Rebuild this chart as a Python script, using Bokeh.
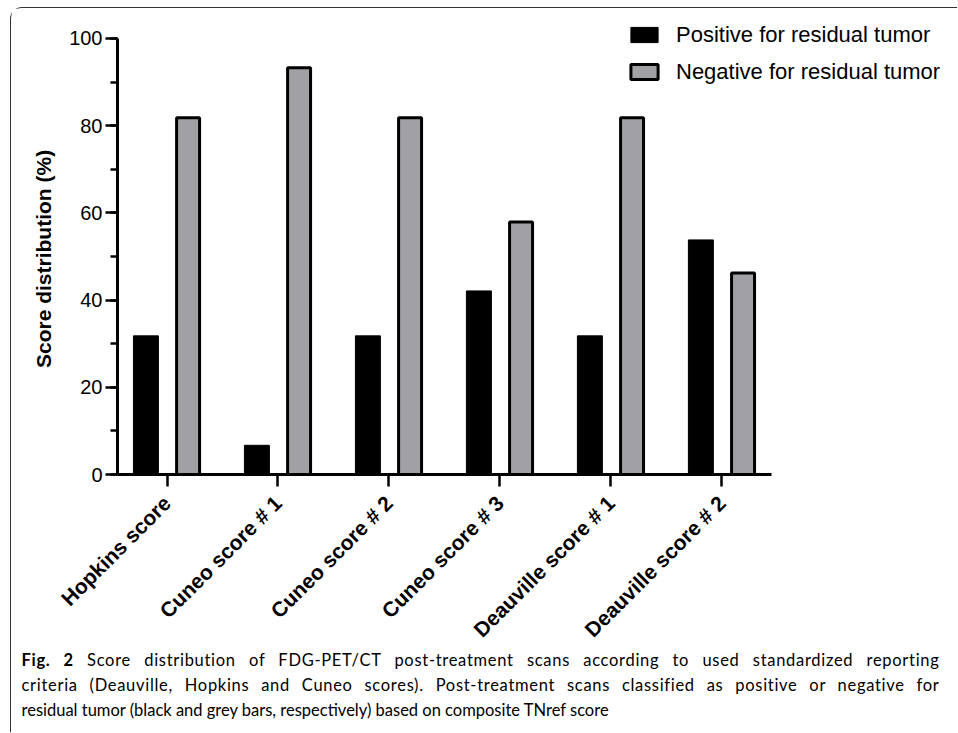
from bokeh.plotting import figure
from bokeh.layouts import column
from bokeh.models import (Range1d, SingleIntervalTicker, FixedTicker, Legend, LegendItem,
                          Title, Div, ColumnDataSource)
from bokeh.transform import dodge
from bokeh.embed import file_html
from bokeh.resources import INLINE
import math

categories = ["Hopkins score", "Cuneo score # 1", "Cuneo score # 2", "Cuneo score # 3",
              "Deauville score # 1", "Deauville score # 2"]
positive = [31.8, 6.7, 31.8, 42.1, 31.8, 53.8]
negative = [81.8, 93.3, 81.8, 57.9, 81.8, 46.2]
series_names = ["Positive for residual tumor", "Negative for residual tumor"]
y_label = "Score distribution (%)"
caption_bold = "Fig. 2"
caption_lines = [
    "Score distribution of FDG-PET/CT post-treatment scans according to used standardized reporting",
    "criteria (Deauville, Hopkins and Cuneo scores). Post-treatment scans classified as positive or negative for",
    "residual tumor (black and grey bars, respectively) based on composite TNref score",
]

idx = list(range(len(categories)))
src = ColumnDataSource(dict(idx=idx, pos=positive, neg=negative))

FONT = "Liberation Sans"
GREY = "#a1a1a5"
W = 946
H = 646

p = figure(width=W, height=H, output_backend="svg", toolbar_location=None,
           x_range=Range1d(-0.446, 7.068), y_range=Range1d(0, 105.5),
           min_border_left=106, min_border_right=6, min_border_top=6, min_border_bottom=H - 466)
p.outline_line_color = None
p.xgrid.visible = False
p.ygrid.visible = False

r_pos = p.vbar(x=dodge("idx", -0.19), top="pos", width=0.225, source=src,
               fill_color="black", line_color="black", line_width=1)
r_neg = p.vbar(x=dodge("idx", 0.19), top="neg", width=0.207, source=src,
               fill_color=GREY, line_color="black", line_width=3)

for ax in (p.xaxis[0], p.yaxis[0]):
    ax.axis_line_width = 3
    ax.axis_line_color = "black"
    ax.major_tick_line_width = 2.5
    ax.major_tick_line_color = "black"
    ax.major_tick_in = 0
    ax.major_tick_out = 12
    ax.major_label_text_font = FONT
    ax.major_label_text_color = "black"

yax = p.yaxis[0]
yax.ticker = SingleIntervalTicker(interval=20, num_minor_ticks=2)
yax.bounds = (0, 100)
yax.minor_tick_in = 0
yax.minor_tick_out = 7
yax.minor_tick_line_width = 2.5
yax.minor_tick_line_color = "black"
yax.major_label_text_font_size = "20px"
yax.major_label_standoff = 3

ytitle = Title(text=y_label, align="left", offset=106.5, text_font=FONT,
               text_font_style="bold", text_font_size="21px", text_color="black",
               standoff=24)
p.add_layout(ytitle, "left")

xax = p.xaxis[0]
xax.ticker = FixedTicker(ticks=idx)
xax.bounds = (-0.446, 5.446)
xax.major_label_overrides = {i: c for i, c in zip(idx, categories)}
xax.major_label_orientation = math.pi / 4
xax.major_label_text_font_size = "21px"
xax.major_label_text_font_style = "bold"
xax.major_label_standoff = 13

legend = Legend(items=[LegendItem(label=series_names[0], renderers=[r_pos]),
                       LegendItem(label=series_names[1], renderers=[r_neg])],
                location=(510, 389.5))
legend.padding = 0
legend.margin = 0
legend.border_line_alpha = 0
legend.background_fill_alpha = 0
legend.glyph_width = 34
legend.glyph_height = 19
legend.label_height = 19
legend.label_standoff = 15
legend.spacing = 11
legend.label_text_font = FONT
legend.label_text_font_size = "22px"
legend.label_text_color = "black"
p.add_layout(legend, "center")

# caption
just = "text-align: justify; text-align-last: justify; letter-spacing: 0.7px;"
cap_html = (
    '<div style="font-family: Lato, sans-serif; font-size: 16.5px; line-height: 25px; '
    'color: black; width: 918px; margin-left: 10.5px; padding-top: 9.5px;">'
    f'<div style="{just}"><b>{caption_bold}</b> {caption_lines[0]}</div>'
    f'<div style="{just}">{caption_lines[1]}</div>'
    f'<div>{caption_lines[2]}</div>'
    '</div>'
)
cap = Div(text=cap_html, width=W, height=94, margin=(630 - H, 0, 0, 0))

layout = column(p, cap, spacing=0, margin=(7, 0, 0, 10),
                styles={"border-left": "1.5px solid #333333",
                        "border-top": "1.5px solid #333333",
                        "border-top-left-radius": "12px"})

open("out.html", "w").write(file_html(layout, INLINE))
